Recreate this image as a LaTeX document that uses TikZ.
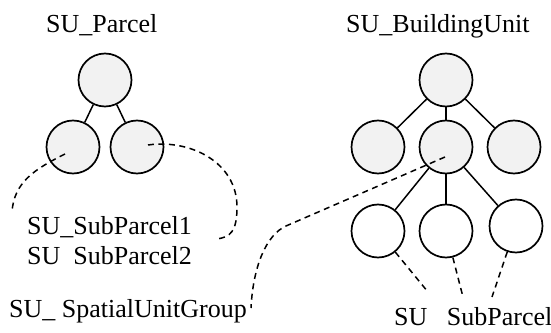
\documentclass[tikz,border=0pt]{standalone}
\usepackage{fontspec}
\setmainfont{Liberation Serif}
\definecolor{unitgray}{gray}{0.95}
\tikzset{
  unit/.style   = {shape=circle, draw, line width=1.7pt,
                   minimum size=53pt, inner sep=0pt},
  whole/.style  = {unit, fill=unitgray},
  part/.style   = {unit, fill=white},
  sutext/.style = {font=\fontsize{26pt}{30pt}\selectfont,
                   inner sep=0pt, anchor=base west},
  spine/.style  = {line width=2.7pt},
  assoc/.style  = {line width=1.5pt, dash pattern=on 6pt off 4.5pt}
}

\begin{document}
\begin{tikzpicture}
	  [
	    x                       = 1pt,
	    y                       = 1pt,
	    level distance          = 67pt,
	    sibling distance        = 68pt,
	    level 2/.style          = {level distance=84pt},
	    edge from parent/.style = {draw, line width=1.5pt}
	  ]
	  \useasboundingbox (0,0) rectangle (551,332);

	  % parcel with its two sub-parcels
	  \node [whole] (pa) at (105,252) {} [sibling distance=64pt]
		child{ node [whole] (pa-l) {} }
		child{ node [whole] (pa-r) {} };

	  % building unit
	  \node [whole] (bu) at (446,252) {}
		child{ node [whole] (bu-l) {} }
		child{
			node [whole] (bu-m) {}
			child{ node [part] (sp-l) {} }
			child{ node [part] (sp-m) {} edge from parent [spine] }
			child{ node [part, xshift=2pt, yshift=5pt] (sp-r) {} }
			edge from parent [spine]
		}
		child{ node [whole] (bu-r) {} };

	  % names
	  \node [sutext] (t-pa)   at (46,299)  {SU\_Parcel};
	  \node [sutext] (t-bu)   at (346,299) {SU\_BuildingUnit};
	  \node [sutext] (t-sub1) at (27,97)   {SU\_SubParcel1};
	  \node [sutext] (t-sub2) at (27,67)   {SU\phantom{\_}SubParcel2};
	  \node [sutext] (t-grp)  at (9,15)    {SU\_ SpatialUnitGroup};
	  \node [sutext] (t-sp)   at (394,7)   {SU\hspace{0.75em}SubParcel};

	  \coordinate (e-sub1) at (12,120);
	  \coordinate (e-sub2) at (217,93);
	  \coordinate (e-grp)  at (251,24);
	  \coordinate (e-bl)   at (428,40);
	  \coordinate (e-bm)   at (463,35);
	  \coordinate (e-br)   at (492,35);

	  % dashed associations
	  \draw [assoc] ([shift={(-8,-7)}]pa-l.center)
		.. controls (35,163) and (14,150) .. (e-sub1);
	  \draw [assoc] ([shift={(11,2)}]pa-r.center)
		.. controls (190,193) and (237,170) .. (237,125)
		.. controls (237,100) and (230,95) .. (e-sub2);
	  \draw [assoc] ([shift={(-1,-10)}]bu-m.center) -- (286,106)
		.. controls (266,97) and (253,65) .. (e-grp);
	  \draw [assoc] (sp-l) -- (e-bl);
	  \draw [assoc] (sp-m) -- (e-bm);
	  \draw [assoc] (sp-r) -- (e-br);
	\end{tikzpicture}
\end{document}
